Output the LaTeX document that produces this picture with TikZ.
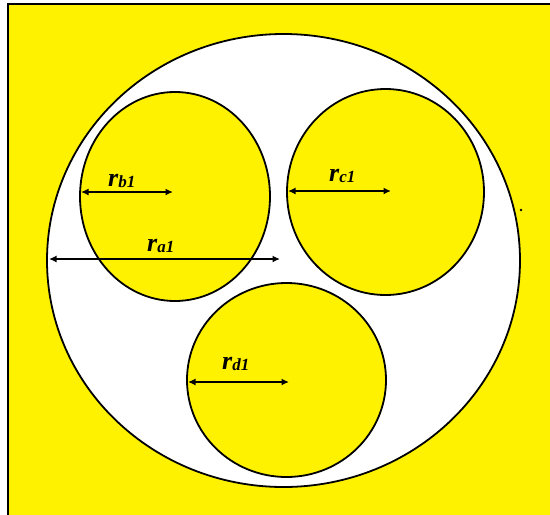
\documentclass[tikz,border=0pt]{standalone}
\usepackage{fontspec}
\setmainfont{Liberation Serif}
\usetikzlibrary{arrows.meta}
\definecolor{bgyellow}{HTML}{FFF200}
\newcommand\rlab[1]{{\bfseries\itshape\fontsize{26}{26}\selectfont r\fontsize{17}{17}\selectfont\raisebox{-1pt}{#1}}}
\begin{document}
\begin{tikzpicture}[x=1pt,y=-1pt,
  outline/.style={draw=black,line width=1.8pt},
  dim/.style={{Latex[length=7.5pt,width=7pt]}-{Latex[length=7.5pt,width=7pt]},line width=1.6pt},
  lbl/.style={anchor=base west,inner sep=0pt}]
\useasboundingbox (0,0) rectangle (550,515);
\fill[white] (0,0) rectangle (550,515);
\fill[bgyellow] (8,4) rectangle (550,515);
\draw[line width=1.8pt] (8,515) -- (8,4) -- (550,4);
% outer circle
\draw[outline, fill=white] (283.5,260.5) ellipse [x radius=236.5, y radius=226.5];
% inner circles
\draw[outline, fill=bgyellow] (175,196.5) ellipse [x radius=95, y radius=104.5];
\draw[outline, fill=bgyellow] (385.5,192) ellipse [x radius=98.5, y radius=103];
\draw[outline, fill=bgyellow] (286.5,380) ellipse [x radius=99.5, y radius=97];
\fill (521,210) circle (1.4pt);
% arrow end points
\coordinate (b1) at (81,192);
\coordinate (b2) at (173,192);
\coordinate (a1) at (49,259);
\coordinate (a2) at (280,259);
\coordinate (c1) at (288,191);
\coordinate (c2) at (391,191);
\coordinate (d1) at (188,382);
\coordinate (d2) at (289,382);
\draw[dim] (b1) -- (b2);
\draw[dim] (a1) -- (a2);
\draw[dim] (c1) -- (c2);
\draw[dim] (d1) -- (d2);
% labels
\node[lbl] (lb) at (108,186) {\rlab{b1}};
\node[lbl] (la) at (147,251) {\rlab{a1}};
\node[lbl] (lc) at (329,181) {\rlab{c1}};
\node[lbl] (ld) at (222,369) {\rlab{d1}};
\end{tikzpicture}
\end{document}
